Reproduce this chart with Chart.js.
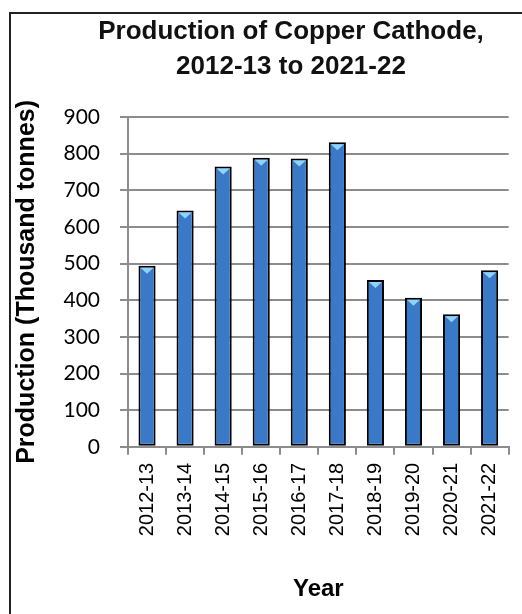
<!DOCTYPE html>
<html>
<head>
<meta charset="utf-8">
<script src="https://cdn.jsdelivr.net/npm/chart.js@4"></script>
<style>
  html, body { margin: 0; padding: 0; background: #fff; overflow: hidden; }
  body { width: 522px; height: 614px; position: relative; }
  #frame {
    position: absolute; left: 9px; top: 12px; width: 700px; height: 800px;
    border-left: 2px solid #222; border-top: 2px solid #222;
  }
  #title {
    position: absolute; left: 0; top: 13px; width: 582px; text-align: center;
    font: bold 26px 'Liberation Sans', Arial, sans-serif; line-height: 35px; color: #111;
  }
  #chart { position: absolute; left: 0; top: 0; }
</style>
</head>
<body>
<div id="frame"></div>
<canvas id="chart" width="522" height="614"></canvas>
<div id="title">Production of Copper Cathode,<br>2012-13 to 2021-22</div>
<script>
const years = ['2012-13', '2013-14', '2014-15', '2015-16', '2016-17',
  '2017-18', '2018-19', '2019-20', '2020-21', '2021-22'];
const production = [494, 645, 765, 789, 787, 831, 455, 407, 362, 482];
const yTicks = [0, 100, 200, 300, 400, 500, 600, 700, 800, 900];

const arial = "'Liberation Sans', Arial, sans-serif";
const gridGray = '#8c8c8c';

// horizontal shading across each bar, darker at the sides
function barFill(ctx) {
  const el = ctx.element;
  const chart = ctx.chart;
  if (!el || el.x === undefined || isNaN(el.x)) return '#3a78c8';
  const half = el.width / 2;
  const g = chart.ctx.createLinearGradient(el.x - half, 0, el.x + half, 0);
  g.addColorStop(0, '#1c4a8c');
  g.addColorStop(0.35, '#3a79ca');
  g.addColorStop(0.65, '#3a79ca');
  g.addColorStop(1, '#1c4a8c');
  return g;
}

// small light-blue bevel at the top of each bar
const bevel = {
  id: 'bevel',
  afterDatasetsDraw(chart) {
    const c = chart.ctx;
    chart.getDatasetMeta(0).data.forEach((bar) => {
      const half = bar.width / 2 - 2;
      c.save();
      c.fillStyle = '#8fd3fa';
      c.beginPath();
      c.moveTo(bar.x - half, bar.y + 2);
      c.lineTo(bar.x + half, bar.y + 2);
      c.lineTo(bar.x, bar.y + 8);
      c.closePath();
      c.fill();
      c.restore();
    });
  },
};

new Chart(document.getElementById('chart'), {
  type: 'bar',
  data: {
    labels: years,
    datasets: [{
      data: production,
      backgroundColor: barFill,
      borderColor: '#000',
      borderWidth: 2,
      borderSkipped: false,
      barPercentage: 0.45,
      categoryPercentage: 1,
    }],
  },
  options: {
    responsive: false,
    animation: false,
    layout: {
      padding: { left: 12, right: 8, top: 117, bottom: 10 },
    },
    plugins: {
      legend: { display: false },
      tooltip: { enabled: false },
    },
    scales: {
      y: {
        min: 0,
        max: 900,
        afterBuildTicks: (scale) => {
          scale.ticks = yTicks.map((v) => ({ value: v }));
        },
        afterFit: (scale) => { scale.width = 116; },
        grid: { color: gridGray, lineWidth: 2, tickLength: 8 },
        border: { display: true, color: gridGray, width: 2 },
        ticks: {
          color: '#000',
          padding: 20,
          font: { family: 'Lato', size: 21 },
        },
        title: {
          display: true,
          text: 'Production (Thousand tonnes)',
          color: '#000',
          padding: { top: 0, bottom: 0 },
          font: { family: arial, size: 25, weight: 'bold' },
        },
      },
      x: {
        grid: {
          drawOnChartArea: false,
          color: gridGray,
          lineWidth: 2,
          tickLength: 8,
        },
        border: { display: true, color: gridGray, width: 2 },
        ticks: {
          color: '#000',
          padding: 8,
          minRotation: 90,
          maxRotation: 90,
          font: { family: arial, size: 20 },
        },
        title: {
          display: true,
          text: 'Year',
          color: '#000',
          padding: { top: 31, bottom: 0 },
          font: { family: arial, size: 24, weight: 'bold' },
        },
      },
    },
  },
  plugins: [bevel],
});
</script>
</body>
</html>
